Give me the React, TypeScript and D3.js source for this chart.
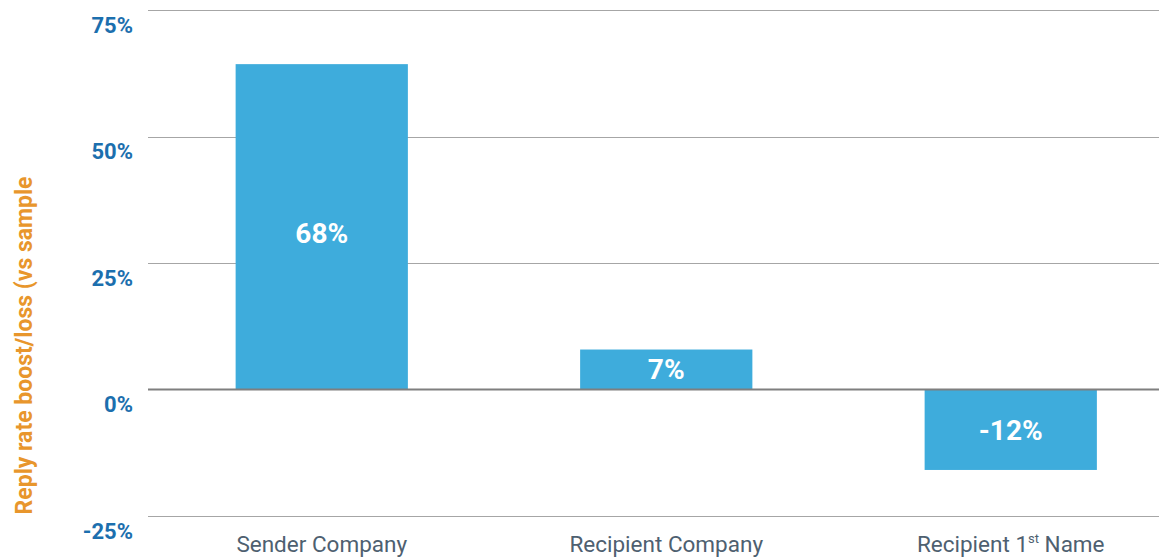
import React, { useEffect, useRef } from "react";
import { select, scaleBand, scaleLinear, axisLeft } from "d3";

// chart data
const categories = ["Sender Company", "Recipient Company", "Recipient 1st Name"];
const barValues = [64.3, 7.9, -15.9]; // bar heights as drawn in the source
const barLabels = ["68%", "7%", "-12%"]; // printed labels
const tickValues = [-25, 0, 25, 50, 75];
const yTitle = "Reply rate boost/loss (vs sample";

const width = 1159;
const height = 559;

function App() {
  const svgRef = useRef<SVGSVGElement | null>(null);

  useEffect(() => {
    const svg = select(svgRef.current);
    svg.selectAll("*").remove();

    const xScale = scaleBand<string>()
      .domain(categories)
      .range([149.5, 1183])
      .paddingInner(0.5)
      .paddingOuter(0.25);

    const yScale = scaleLinear().domain([-25, 75]).range([516, 10]);

    // gridlines
    svg
      .append("g")
      .selectAll("line")
      .data(tickValues.filter(v => v !== 0))
      .join("line")
      .attr("x1", 148)
      .attr("x2", width)
      .attr("y1", v => Math.round(yScale(v)) + 0.5)
      .attr("y2", v => Math.round(yScale(v)) + 0.5)
      .attr("stroke", "#a6a6a6")
      .attr("stroke-width", 1);

    // y axis labels
    const yAxis = axisLeft(yScale)
      .tickValues(tickValues)
      .tickSize(0)
      .tickPadding(0)
      .tickFormat(d => `${d}%`);
    const yG = svg.append("g").attr("transform", "translate(133, 15)").call(yAxis);
    yG.select(".domain").remove();
    yG.selectAll("text")
      .attr("fill", "#1c6fae")
      .style("font-family", "Roboto, sans-serif")
      .style("font-weight", "700")
      .style("font-size", "22px");

    // bars
    svg
      .append("g")
      .selectAll("rect")
      .data(barValues)
      .join("rect")
      .attr("x", (v, i) => xScale(categories[i]) as number)
      .attr("width", xScale.bandwidth())
      .attr("y", v => yScale(Math.max(0, v)))
      .attr("height", v => Math.abs(yScale(0) - yScale(v)))
      .attr("fill", "#3eacdc");

    // zero line
    svg
      .append("line")
      .attr("x1", 148)
      .attr("x2", width)
      .attr("y1", yScale(0))
      .attr("y2", yScale(0))
      .attr("stroke", "#7f7f7f")
      .attr("stroke-width", 2);

    // bar labels
    svg
      .append("g")
      .selectAll("text")
      .data(barValues)
      .join("text")
      .attr("x", (v, i) => (xScale(categories[i]) as number) + xScale.bandwidth() / 2)
      .attr("y", v => (yScale(0) + yScale(v)) / 2 + (v > 30 ? 6 : 0))
      .attr("dy", "0.35em")
      .attr("text-anchor", "middle")
      .attr("fill", "#ffffff")
      .style("font-family", "Roboto, sans-serif")
      .style("font-weight", "700")
      .style("font-size", "28px")
      .text((v, i) => barLabels[i]);

    // category labels
    const catG = svg
      .append("g")
      .selectAll("text")
      .data(categories)
      .join("text")
      .attr("x", c => (xScale(c) as number) + xScale.bandwidth() / 2)
      .attr("y", 552)
      .attr("text-anchor", "middle")
      .attr("fill", "#4e6070")
      .style("font-family", "Roboto, sans-serif")
      .style("font-size", "22.5px");
    catG.each(function (c) {
      const t = select(this);
      const m = c.match(/^(.*\d)(st)(.*)$/);
      if (m) {
        t.append("tspan").text(m[1]);
        t.append("tspan").attr("dy", -9).style("font-size", "13px").text(m[2]);
        t.append("tspan").attr("dy", 9).text(m[3]);
      } else {
        t.text(c);
      }
    });

    // y title
    svg
      .append("text")
      .attr("transform", `translate(32, ${(178 + 513) / 2}) rotate(-90)`)
      .attr("text-anchor", "middle")
      .attr("fill", "#e8962c")
      .style("font-family", "Roboto, sans-serif")
      .style("font-weight", "700")
      .style("font-size", "23px")
      .text(yTitle);
  }, []);

  return (
    <div style={{ position: "absolute", left: 0, top: 0 }}>
      <svg ref={svgRef} width={width} height={height} style={{ display: "block", overflow: "hidden" }} />
    </div>
  );
}

export default App;
